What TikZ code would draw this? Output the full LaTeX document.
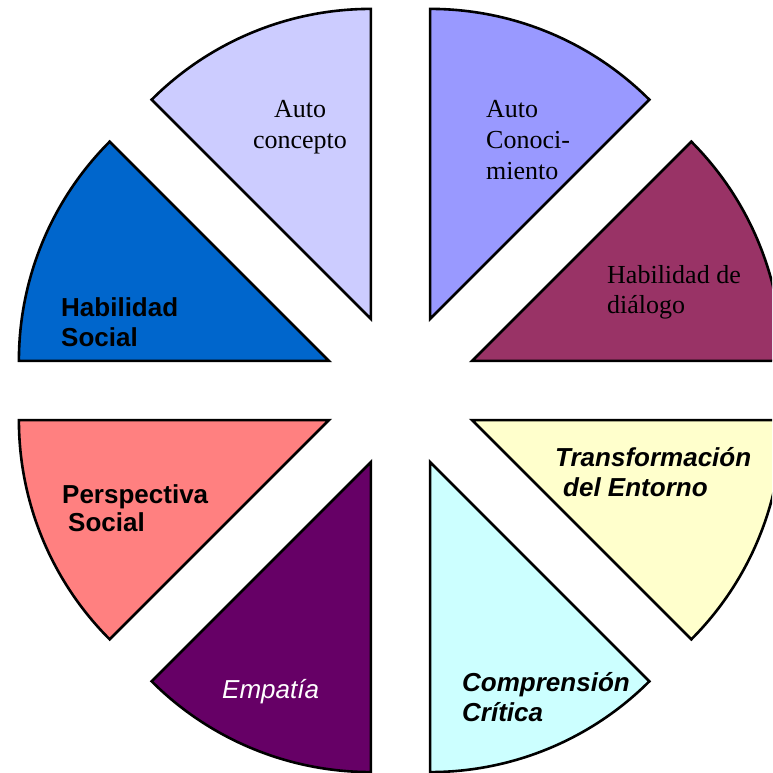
\documentclass[tikz,border=0pt]{standalone}
\usepackage{fontspec}
\setmainfont{Liberation Serif}
\newfontfamily\arialfont{Liberation Sans}
\definecolor{cAutoCon}{HTML}{CCCCFF}
\definecolor{cAutoCono}{HTML}{9999FF}
\definecolor{cDialogo}{HTML}{993366}
\definecolor{cTransf}{HTML}{FFFFCC}
\definecolor{cCompr}{HTML}{CCFFFF}
\definecolor{cEmpatia}{HTML}{660066}
\definecolor{cPersp}{HTML}{FF8080}
\definecolor{cHabSoc}{HTML}{0066CC}
\tikzset{
  sector/.style={draw=black, line width=2.6pt},
  serifl/.style={inner sep=0pt, font=\fontsize{26}{31}\selectfont},
  sansbl/.style={inner sep=0pt, font=\arialfont\bfseries\fontsize{26}{30}\selectfont},
  sansbi/.style={inner sep=0pt, font=\arialfont\bfseries\itshape\fontsize{26}{30}\selectfont},
}
\begin{document}
\begin{tikzpicture}[x=1pt,y=1pt]
\useasboundingbox (0,0) rectangle (772,773);
\clip (0,0) rectangle (772,773);
\foreach \a/\col in {90/cAutoCon, 45/cAutoCono, 0/cDialogo, -45/cTransf, -90/cCompr, -135/cEmpatia, 180/cPersp, 135/cHabSoc}{
  \draw[sector, fill=\col, shift={({\a+22.5}:77.5)}]
    (400.5,382.5) -- ++(\a:310) arc[start angle=\a, end angle={\a+45}, radius=310] -- cycle;
}
% labels
\node[serifl, anchor=base] (autoconcepto) at (300,655)
  {\begin{tabular}[t]{@{}c@{}}Auto\\concepto\end{tabular}};
\node[serifl, anchor=base west] (autoconocimiento) at (486,655)
  {\begin{tabular}[t]{@{}l@{}}Auto\\Conoci-\\miento\end{tabular}};
\node[serifl, anchor=base west] (dialogo) at (607,489)
  {\begin{tabular}[t]{@{}l@{}}Habilidad de\\[-1pt]diálogo\end{tabular}};
\node[sansbl, anchor=base west] (habsocial) at (61,456)
  {\begin{tabular}[t]{@{}l@{}}Habilidad\\Social\end{tabular}};
\node[sansbi, anchor=base west] (transf) at (555,306)
  {\begin{tabular}[t]{@{}l@{}}Transformación\\\hspace{8pt}del Entorno\end{tabular}};
\node[sansbl, anchor=base west] (persp) at (62,269)
  {\begin{tabular}[t]{@{}l@{}}Perspectiva\\[-2pt]\hspace{6pt}Social\end{tabular}};
\node[inner sep=0pt, anchor=base west, text=white, font=\arialfont\itshape\fontsize{26}{30}\selectfont] (empatia) at (222,74) {Empatía};
\node[sansbi, anchor=base west] (compr) at (462,81)
  {\begin{tabular}[t]{@{}l@{}}Comprensión\\Crítica\end{tabular}};
\end{tikzpicture}
\end{document}
